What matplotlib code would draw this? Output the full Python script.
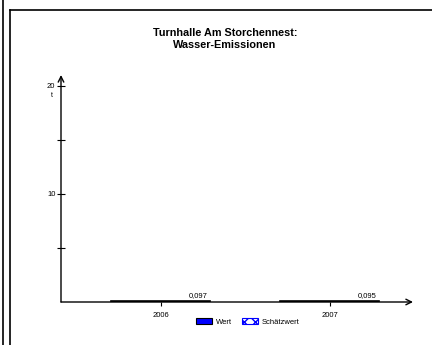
import matplotlib
matplotlib.use("Agg")
import matplotlib.pyplot as plt
from matplotlib.patches import Patch
from matplotlib.lines import Line2D

plt.rcParams['font.family'] = ['Liberation Sans', 'DejaVu Sans']

years = ["2006", "2007"]
values = [0.097, 0.095]
value_labels = ["0,097", "0,095"]
yticks_major = [10, 20]
yticks_minor = [5, 15]
title = "Turnhalle Am Storchennest:\nWasser-Emissionen"
unit = "t"

W, H = 432, 345
fig = plt.figure(figsize=(W / 100, H / 100), dpi=100)

# frame lines
fig.add_artist(Line2D([3 / W, 3 / W], [0, 1], color='black', lw=1.2))
fig.add_artist(Line2D([10 / W, 10 / W], [0, 1 - 10 / H], color='black', lw=1.2))
fig.add_artist(Line2D([10 / W, 1], [1 - 10 / H, 1 - 10 / H], color='black', lw=1.2))

x0, x1 = 61, 413
yb, yt = 302, 75
ax = fig.add_axes([x0 / W, (H - yb) / H, (x1 - x0) / W, (yb - yt) / H])
c0, sp = 160.5, 169
ax.set_xlim((x0 - c0) / sp, (x1 - c0) / sp)
pxu = (yb - 86) / 20
ax.set_ylim(0, (yb - yt) / pxu)

xs = list(range(len(years)))
bw = 99 / sp
ax.bar(xs, values, width=bw, color='blue', edgecolor='black', linewidth=1.2)
for x, v, lab in zip(xs, values, value_labels):
    ax.annotate(lab, (x + bw / 2, v), xytext=(-2, 1.5), textcoords='offset points',
                ha='right', va='bottom', fontsize=5.5)

for s in ax.spines.values():
    s.set_visible(False)
ax.annotate('', xy=(1, 0), xytext=(0, 0), xycoords='axes fraction',
            arrowprops=dict(arrowstyle='->', lw=1.0, color='black', shrinkA=0, shrinkB=0))
ax.annotate('', xy=(0, 1), xytext=(0, 0), xycoords='axes fraction',
            arrowprops=dict(arrowstyle='->', lw=1.0, color='black', shrinkA=0, shrinkB=0))

ax.set_xticks(xs)
ax.set_xticklabels(years, fontsize=5.5)
ax.tick_params(axis='x', direction='out', length=3, width=0.8, pad=4.5)
ax.set_yticks(yticks_major)
ax.set_yticklabels([str(t) for t in yticks_major], fontsize=5.5)
ax.set_yticks(yticks_minor, minor=True)
ax.tick_params(axis='y', which='both', direction='inout', length=6, width=0.8, pad=1)
ax.patch.set_visible(False)

fig.text(52 / W, 1 - 96 / H, unit, ha='center', va='center', fontsize=5)
fig.text(225 / W, 1 - 39 / H, title, ha='center', va='center', fontsize=7.8,
         fontweight='bold', linespacing=1.35)

handles = [Patch(facecolor='blue', edgecolor='black', lw=0.8),
           Patch(facecolor='white', edgecolor='blue', hatch='xxx', lw=0.8)]
fig.legend(handles, ['Wert', 'Schätzwert'], loc='center', bbox_to_anchor=(248 / W, 1 - 322 / H),
           ncol=2, frameon=False, fontsize=5.5, handlelength=2.1, handleheight=0.8,
           columnspacing=1.3, handletextpad=0.5, borderpad=0)

fig.savefig('out.png', dpi=100)
